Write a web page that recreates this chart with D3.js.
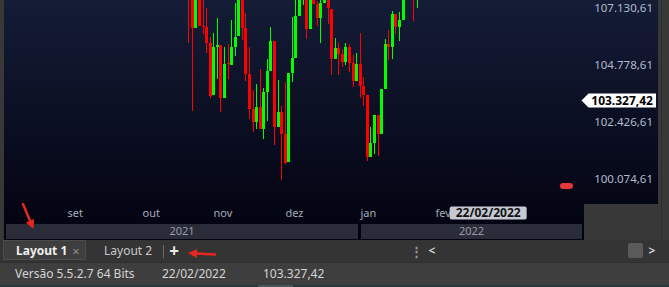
<!DOCTYPE html>
<html>
<head>
<meta charset="utf-8">
<script src="https://cdn.jsdelivr.net/npm/d3@7"></script>
<style>
  body { margin: 0; background: #383838; overflow: hidden; }
  svg { display: block; font-family: "Noto Sans", "Open Sans", sans-serif; }
</style>
</head>
<body>
<div id="chart"></div>
<script>
// candles, one per trading day (index 0 = first candle shown)
const opens  = [107900,107700,106276,107700,106388,106346,105699,103541,105521,105604,103417,104840,104779,105521,105975,107700,106305,104407,102963,102427,103046,102138,103665,104531,105769,102220,102839,101932,100776,104449,105067,106800,107500,107700,106264,107600,107295,106718,107337,107450,107089,105026,105480,105232,104902,105521,104861,104118,104820,103912,103541,100983,101560,102716,101932,103788,105645,105521,106883,106346,106635,107700,107900,108000,107600];
const highs  = [108100,107900,107800,107900,107500,107130,105934,106099,106718,105604,105521,105645,106635,107337,107900,107900,106924,105521,103747,103995,104614,103830,105026,106346,105769,104160,103087,104077,104449,106759,107450,107800,107900,107900,107900,107800,107419,107500,107900,107600,107089,105893,105686,105439,105686,105645,105191,105274,106099,104283,103541,102220,102716,102716,103788,105851,106223,107007,106883,106965,107900,108100,108100,108200,108100];
const lows   = [105686,102881,106276,106388,106058,105286,103429,103541,104213,102839,103417,104213,104779,105150,105975,105810,104118,102551,102014,102138,102138,101725,102468,104531,101478,102220,100034,100694,100776,104077,105067,106800,107254,105851,106264,107295,106388,105686,107337,106470,104366,105026,104366,104696,104779,104490,103871,104118,103417,103087,100818,100983,101106,101024,101932,103788,104985,105026,106058,105769,106635,107500,107600,106594,107130];
const closes = [107650,106276,107600,106388,106318,105699,103500,105521,105604,103429,104820,104799,105521,105934,107650,106305,104407,102963,102439,103046,102138,103665,104531,105769,102220,102839,101932,100735,104449,105067,106800,107600,107700,106264,107650,107295,106718,107337,107700,107130,105026,105480,105232,104902,105521,104861,104118,104820,103912,103541,100983,101560,102716,101932,103788,105645,105521,106883,106346,106635,107650,107900,107800,107700,107900];

const monthLabels = ["set", "out", "nov", "dez", "jan", "fev"];
const monthStarts = [-34, -13, 7, 27, 48, 69];
const yearLabels = ["2021", "2022"];
const yearStarts = [-60, 48];
const priceTicks = [100074.61, 102426.61, 104778.61, 107130.61];
const cursorPrice = 103327.42;
const cursorDate = "22/02/2022";
const cursorIndex = 84;
const versionText = "Versão 5.5.2.7 64 Bits";
const tabs = ["Layout 1", "Layout 2"];

const W = 669, H = 287;
const plot = { left: 4, right: 583, top: 0, bottom: 203 };
const ptBr = d3.formatLocale({ decimal: ",", thousands: ".", grouping: [3], currency: ["R$", ""] });
const fmt = ptBr.format(",.2f");

const x = d3.scaleLinear().domain([0, 64]).range([188.3, 188.3 + 64 * 3.57]);
const y = d3.scaleLinear().domain([100074.61, 107130.61]).range([179.3, 7.7]);

const svg = d3.select("#chart").append("svg")
  .attr("width", W).attr("height", H);

const defs = svg.append("defs");
const grad = defs.append("linearGradient").attr("id", "bg")
  .attr("x1", 0).attr("y1", 0).attr("x2", 0).attr("y2", 1);
grad.append("stop").attr("offset", "0%").attr("stop-color", "#141c36");
grad.append("stop").attr("offset", "100%").attr("stop-color", "#02020f");
defs.append("clipPath").attr("id", "clip").append("rect")
  .attr("x", plot.left).attr("y", plot.top)
  .attr("width", plot.right - plot.left).attr("height", plot.bottom - plot.top);

// frame
svg.append("rect").attr("width", W).attr("height", H).attr("fill", "#383838");
svg.append("rect").attr("x", 4).attr("y", 0).attr("width", 654).attr("height", 240).attr("fill", "url(#bg)");
svg.append("rect").attr("x", 584).attr("y", 204).attr("width", 74).attr("height", 36).attr("fill", "#383838");
svg.append("line").attr("x1", 661.5).attr("x2", 661.5).attr("y1", 0).attr("y2", 262)
  .attr("stroke", "#2e2e2e");

// candles
const candles = d3.range(opens.length).map(i => ({
  i, o: opens[i], h: highs[i], l: lows[i], c: closes[i]
}));
const g = svg.append("g").attr("clip-path", "url(#clip)").attr("shape-rendering", "crispEdges");
const color = d => d.c >= d.o ? "#00ff00" : "#ff0000";

g.selectAll("line.wick").data(candles).enter().append("line")
  .attr("class", "wick")
  .attr("x1", d => Math.round(x(d.i)) + 0.5)
  .attr("x2", d => Math.round(x(d.i)) + 0.5)
  .attr("y1", d => y(d.h))
  .attr("y2", d => y(d.l))
  .attr("stroke", color);

g.selectAll("rect.body").data(candles).enter().append("rect")
  .attr("class", "body")
  .attr("x", d => Math.round(x(d.i)) - 1)
  .attr("width", 3)
  .attr("y", d => y(Math.max(d.o, d.c)))
  .attr("height", d => Math.max(1, Math.abs(y(d.o) - y(d.c))))
  .attr("fill", color);

// price axis
svg.append("g").selectAll("text").data(priceTicks).enter().append("text")
  .attr("x", 653).attr("y", d => y(d))
  .attr("dy", "0.35em").attr("text-anchor", "end")
  .attr("font-size", 11.5).attr("fill", "#b0bccf")
  .text(d => fmt(d));

// cursor price tag
const cy = Math.round(y(cursorPrice)) + 0.5;
svg.append("path")
  .attr("d", `M581.5,${cy} L588.5,${cy - 7} L656,${cy - 7} L656,${cy + 7} L588.5,${cy + 7} Z`)
  .attr("fill", "#ffffff");
svg.append("text").attr("x", 653).attr("y", cy).attr("dy", "0.36em")
  .attr("text-anchor", "end").attr("font-size", 12).attr("font-weight", "bold")
  .attr("fill", "#000").text(fmt(cursorPrice));

// marker dots
svg.append("rect").attr("x", 560).attr("y", 183).attr("width", 13).attr("height", 6)
  .attr("rx", 3).attr("fill", "#e8363a");

// time axis
const edge = i => Math.round(x(i)) - 1;
svg.append("g").selectAll("text").data(monthLabels).enter().append("text")
  .attr("x", (d, k) => edge(monthStarts[k]) + 1.5).attr("y", 213)
  .attr("dy", "0.35em").attr("font-size", 11).attr("fill", "#a3abbb")
  .text(d => d);

const yearBands = yearLabels.map((lab, k) => {
  const x0 = Math.max(6, edge(yearStarts[k]) + (k ? 2 : 0));
  const x1 = k + 1 < yearStarts.length ? edge(yearStarts[k + 1]) - 1 : 582;
  return { lab, x0, x1 };
});
const yb = svg.append("g");
yb.selectAll("rect").data(yearBands).enter().append("rect")
  .attr("x", d => d.x0).attr("width", d => d.x1 - d.x0)
  .attr("y", 224).attr("height", 15).attr("fill", "#2a2c3a");
yb.selectAll("text").data(yearBands).enter().append("text")
  .attr("x", d => (d.x0 + d.x1) / 2).attr("y", 231.5).attr("dy", "0.35em")
  .attr("text-anchor", "middle").attr("font-size", 11).attr("fill", "#9a9ca6")
  .text(d => d.lab);

// cursor date tag
const cx = x(cursorIndex);
svg.append("rect").attr("x", cx - 38.5).attr("y", 206.5).attr("width", 77).attr("height", 13)
  .attr("rx", 2).attr("fill", "#c5c9d1");
svg.append("text").attr("x", cx).attr("y", 213).attr("dy", "0.36em")
  .attr("text-anchor", "middle").attr("font-size", 12).attr("font-weight", "bold")
  .attr("fill", "#111").text(cursorDate);

// tab bar
svg.append("rect").attr("x", 0).attr("y", 240).attr("width", W).attr("height", 22).attr("fill", "#343434");
svg.append("rect").attr("x", 3.5).attr("y", 240.5).attr("width", 82).attr("height", 19)
  .attr("fill", "#3e3e3e").attr("stroke", "#4c4c4c");
svg.append("text").attr("x", 16).attr("y", 251).attr("dy", "0.35em")
  .attr("font-size", 12).attr("font-weight", "bold").attr("fill", "#f0f0f0").text(tabs[0]);
svg.append("text").attr("x", 76).attr("y", 251).attr("dy", "0.35em").attr("text-anchor", "middle")
  .attr("font-size", 13).attr("fill", "#8e8e8e").text("×");
svg.append("text").attr("x", 104).attr("y", 251).attr("dy", "0.35em")
  .attr("font-size", 12).attr("fill", "#c8c8c8").text(tabs[1]);
svg.append("line").attr("x1", 163.5).attr("x2", 163.5).attr("y1", 245).attr("y2", 258).attr("stroke", "#6a6a6a");
svg.append("text").attr("x", 174).attr("y", 251).attr("dy", "0.36em").attr("text-anchor", "middle")
  .attr("font-size", 17).attr("font-weight", "bold").attr("fill", "#e8e8e8").text("+");
svg.append("text").attr("x", 416.5).attr("y", 251).attr("dy", "0.35em").attr("text-anchor", "middle")
  .attr("font-size", 13).attr("font-weight", "bold").attr("fill", "#9a9a9a").text("⋮");
svg.append("text").attr("x", 432).attr("y", 250.5).attr("dy", "0.35em").attr("text-anchor", "middle")
  .attr("font-size", 12).attr("font-weight", "bold").attr("fill", "#d0d0d0").text("<");
svg.append("rect").attr("x", 628).attr("y", 243).attr("width", 15).attr("height", 15).attr("rx", 2)
  .attr("fill", "#5a5a5a");
svg.append("text").attr("x", 652).attr("y", 250.5).attr("dy", "0.35em").attr("text-anchor", "middle")
  .attr("font-size", 12).attr("font-weight", "bold").attr("fill", "#d0d0d0").text(">");

// status bar
svg.append("rect").attr("x", 0).attr("y", 262).attr("width", W).attr("height", 25).attr("fill", "#3e3e3e");
svg.append("line").attr("x1", 0).attr("x2", W).attr("y1", 262.5).attr("y2", 262.5).attr("stroke", "#2f2f2f");
svg.append("rect").attr("x", 0).attr("y", 285).attr("width", W).attr("height", 2).attr("fill", "#2c3838");
svg.append("rect").attr("x", 258).attr("y", 285).attr("width", 35).attr("height", 2).attr("fill", "#4a5656");
const status = [[15, versionText], [162, cursorDate], [263, fmt(cursorPrice)]];
svg.append("g").selectAll("text").data(status).enter().append("text")
  .attr("x", d => d[0]).attr("y", 274).attr("dy", "0.35em")
  .attr("font-size", 12).attr("fill", "#d4d4d4").text(d => d[1]);

// red annotation arrows
const arrowColor = "#e8251e";
const arrow = (x1, y1, x2, y2) => {
  const a = Math.atan2(y2 - y1, x2 - x1), len = 9, wid = 4.5;
  const bx = x2 - len * Math.cos(a), by = y2 - len * Math.sin(a);
  svg.append("line").attr("x1", x1).attr("y1", y1).attr("x2", bx).attr("y2", by)
    .attr("stroke", arrowColor).attr("stroke-width", 2.5).attr("stroke-linecap", "round");
  svg.append("path")
    .attr("d", `M${x2},${y2} L${bx + wid * Math.sin(a)},${by - wid * Math.cos(a)} L${bx - wid * Math.sin(a)},${by + wid * Math.cos(a)} Z`)
    .attr("fill", arrowColor);
};
arrow(23, 204, 33.5, 229);
arrow(215, 254.5, 188, 253);
</script>
</body>
</html>
